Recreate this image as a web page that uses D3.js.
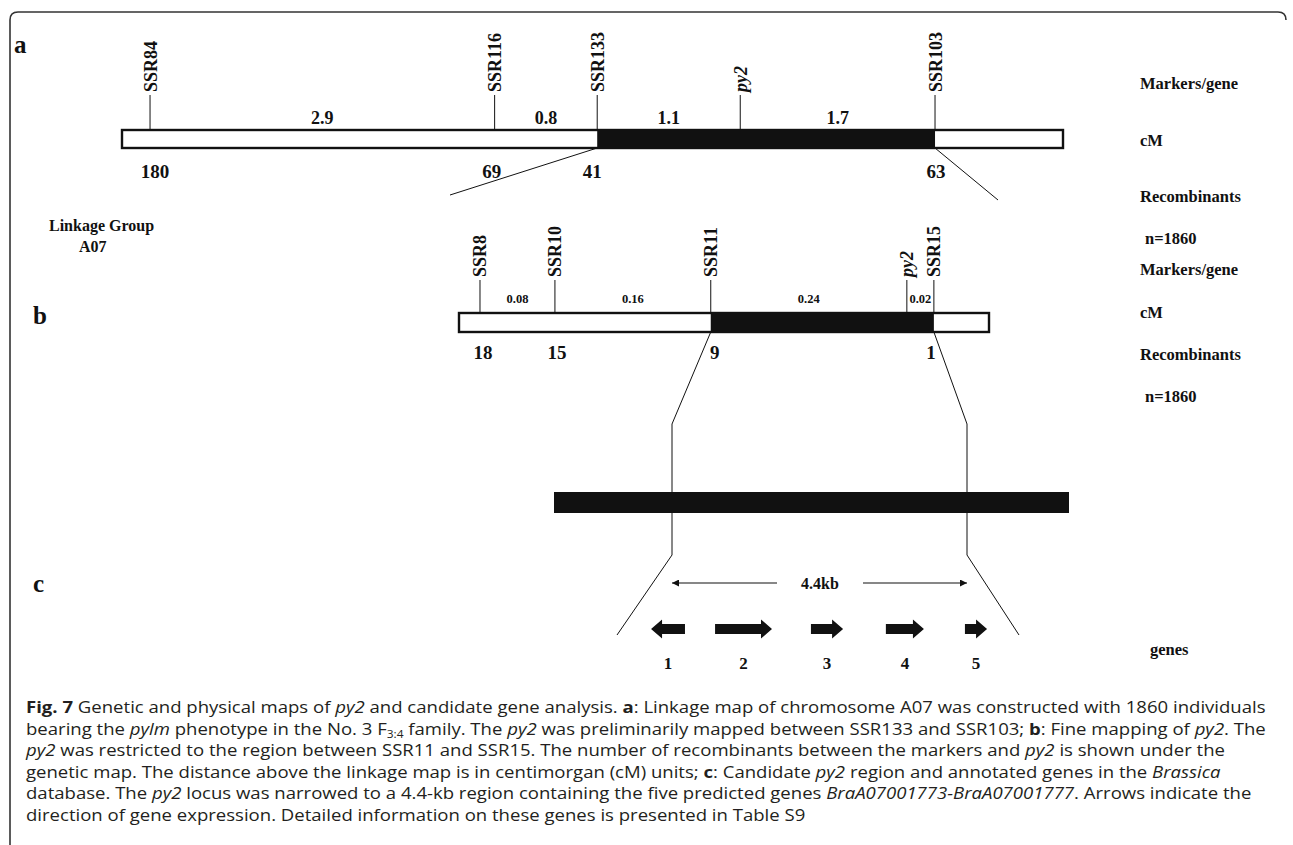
<!DOCTYPE html>
<html><head><meta charset="utf-8">
<script src="https://cdn.jsdelivr.net/npm/d3@7"></script>
<style>body{margin:0;background:#fff}</style>
</head><body>
<svg id="fig" width="1293" height="845"></svg>
<script>
// ---- data ----------------------------------------------------------
// Panel a: linkage map of chromosome A07
const markersA = ["SSR84", "SSR116", "SSR133", "py2", "SSR103"];
const cmA = [2.9, 0.8, 1.1, 1.7];
const recombA = [180, 69, 41, null, 63];
// Panel b: fine map of the py2 interval
const markersB = ["SSR8", "SSR10", "SSR11", "py2", "SSR15"];
const cmB = [0.08, 0.16, 0.24, 0.02];
const recombB = [18, 15, 9, null, 1];
const population = 1860;
// Panel c: candidate region and predicted genes
const regionSize = "4.4kb";
const geneIds = [1, 2, 3, 4, 5];
const geneStrand = [-1, 1, 1, 1, 1];
const rowLabels = ["Markers/gene", "cM", "Recombinants"];

// ---- layout ---------------------------------------------------------
// schematic (not to scale) slot of each marker along its bar, 0..1
const slotsA = [0.0298, 0.396, 0.505, 0.657, 0.864];
const slotsB = [0.0396, 0.181, 0.475, 0.845, 0.896];
// gene extents relative to the candidate window (0 = left border, 1 = right border)
const geneSlots = [[-0.071, 0.044], [0.146, 0.339], [0.471, 0.58], [0.725, 0.854], [0.993, 1.068]];

const svg = d3.select("#fig");
const SERIF = "'Liberation Serif','Times New Roman',serif";
const ink = "#111";

// frame
svg.append("path")
  .attr("d", "M10,845 L10,20 Q10,12 18,12 L1278,12 Q1286,12 1286,20")
  .attr("fill", "none").attr("stroke", "#333").attr("stroke-width", 1.6);

const g = svg.append("g").attr("font-family", SERIF).attr("font-weight", "bold").attr("fill", ink);

function panelLetter(t, x, y) {
  g.append("text").attr("x", x).attr("y", y).attr("font-size", 25).text(t);
}

function linkageMap(opt) {
  const x = d3.scaleLinear().domain([0, 1]).range([opt.x0, opt.x1]);
  const xs = opt.slots.map(s => x(s));
  const grp = g.append("g");
  // white bar with black interval between the flanking markers
  grp.append("rect").attr("x", opt.x0).attr("y", opt.y).attr("width", opt.x1 - opt.x0)
    .attr("height", opt.h).attr("fill", "#fff").attr("stroke", ink).attr("stroke-width", 2.4);
  grp.append("rect").attr("x", xs[opt.black[0]]).attr("y", opt.y)
    .attr("width", xs[opt.black[1]] - xs[opt.black[0]]).attr("height", opt.h).attr("fill", ink);
  // marker ticks and rotated names
  opt.markers.forEach((m, i) => {
    grp.append("line").attr("x1", xs[i]).attr("x2", xs[i]).attr("y1", opt.y).attr("y2", opt.tickTop)
      .attr("stroke", ink).attr("stroke-width", 1);
    grp.append("text")
      .attr("transform", `translate(${xs[i]},${opt.tickTop - 3}) rotate(-90)`)
      .attr("dy", "0.36em").attr("font-size", opt.markerSize)
      .attr("font-style", m === "py2" ? "italic" : "normal")
      .text(m);
  });
  // genetic distances centred between neighbouring markers
  opt.cm.forEach((d, i) => {
    grp.append("text").attr("x", (xs[i] + xs[i + 1]) / 2).attr("y", opt.cmY)
      .attr("text-anchor", "middle").attr("font-size", opt.cmSize).text(d);
  });
  // recombinant counts under the markers
  opt.recomb.forEach((d, i) => {
    if (d == null) return;
    grp.append("text").attr("x", xs[i] + (opt.recOff ? opt.recOff[i] : 0)).attr("y", opt.recY)
      .attr("text-anchor", "middle").attr("font-size", 19).text(d);
  });
  return xs;
}

function rowTitles(ys) {
  const labels = rowLabels.concat(["n=" + population]);
  labels.forEach((t, i) => {
    g.append("text").attr("x", i === 3 ? 1145 : 1140).attr("y", ys[i]).attr("font-size", 16.5).text(t);
  });
}

// ---- panel a ----
panelLetter("a", 14, 53);
const xa = linkageMap({
  x0: 122, x1: 1063, y: 130, h: 18, tickTop: 95, slots: slotsA, markers: markersA,
  black: [2, 4], cm: cmA, cmY: 124, cmSize: 18, recomb: recombA, recY: 178,
  recOff: [5, -3, -5, 0, 1], markerSize: 18
});
rowTitles([89, 146, 202, 244]);

g.append("text").attr("x", 49).attr("y", 231).attr("font-size", 16).text("Linkage Group");
g.append("text").attr("x", 79).attr("y", 252).attr("font-size", 16).text("A07");

// ---- panel b ----
panelLetter("b", 33, 324);
const xb = linkageMap({
  x0: 459, x1: 989, y: 313, h: 19, tickTop: 280, slots: slotsB, markers: markersB,
  black: [2, 4], cm: cmB, cmY: 303, cmSize: 12.5, recomb: recombB, recY: 359,
  recOff: [3, 2, 4, 0, -3], markerSize: 18
});
rowTitles([275, 318, 360, 402]);

// zoom lines from a to b
const lineStyle = s => s.attr("fill", "none").attr("stroke", ink).attr("stroke-width", 1);
svg.append("line").attr("x1", xa[2]).attr("y1", 148).attr("x2", 450).attr("y2", 195).call(lineStyle);
svg.append("line").attr("x1", xa[4]).attr("y1", 148).attr("x2", 998).attr("y2", 200).call(lineStyle);

// ---- panel c ----
panelLetter("c", 33, 592);
const xc = d3.scaleLinear().domain([0, 1]).range([672, 967]);
// zoom lines from b down to the gene row
[[xb[2], 0, 617], [xb[4], 1, 1019]].forEach(([xs, side, xEnd]) => {
  svg.append("path")
    .attr("d", d3.line()([[xs, 332], [xc(side), 424], [xc(side), 555], [xEnd, 635]]))
    .call(lineStyle);
});
// physical map bar
svg.append("rect").attr("x", 554).attr("y", 492).attr("width", 515).attr("height", 21).attr("fill", ink);

// 4.4 kb extent arrows
const defs = svg.append("defs");
defs.append("marker").attr("id", "ah").attr("viewBox", "0 0 10 10").attr("refX", 10).attr("refY", 5)
  .attr("markerWidth", 10).attr("markerHeight", 7).attr("orient", "auto-start-reverse")
  .attr("markerUnits", "userSpaceOnUse")
  .append("path").attr("d", "M0,0 L10,5 L0,10 Z").attr("fill", ink);
svg.append("line").attr("x1", 777).attr("y1", 583).attr("x2", xc(0)).attr("y2", 583)
  .attr("stroke", ink).attr("stroke-width", 1.2).attr("marker-end", "url(#ah)");
svg.append("line").attr("x1", 863).attr("y1", 583).attr("x2", xc(1)).attr("y2", 583)
  .attr("stroke", ink).attr("stroke-width", 1.2).attr("marker-end", "url(#ah)");
g.append("text").attr("x", 820).attr("y", 589).attr("text-anchor", "middle").attr("font-size", 16).text(regionSize);

// gene arrows: direction of transcription from geneStrand
const gy = 629, shaft = 5, head = 9.5, headLen = 11;
geneIds.forEach((id, i) => {
  const a = xc(geneSlots[i][0]), b = xc(geneSlots[i][1]);
  let pts;
  if (geneStrand[i] > 0) {
    const hb = b - headLen;
    pts = [[a, gy - shaft], [hb, gy - shaft], [hb, gy - head], [b, gy], [hb, gy + head], [hb, gy + shaft], [a, gy + shaft]];
  } else {
    const hb = a + headLen;
    pts = [[b, gy - shaft], [hb, gy - shaft], [hb, gy - head], [a, gy], [hb, gy + head], [hb, gy + shaft], [b, gy + shaft]];
  }
  svg.append("path").attr("d", d3.line()(pts) + "Z").attr("fill", ink);
  g.append("text").attr("x", (a + b) / 2).attr("y", 669).attr("text-anchor", "middle").attr("font-size", 17).text(id);
});
g.append("text").attr("x", 1150).attr("y", 655).attr("font-size", 16.5).text("genes");

// ---- caption ----
const B = "b", I = "i", N = "n", S = "s";
const captionLines = [
  [["Fig. 7", B], [" Genetic and physical maps of ", N], ["py2", I], [" and candidate gene analysis. ", N], ["a", B], [": Linkage map of chromosome A07 was constructed with 1860 individuals", N]],
  [["bearing the ", N], ["pylm", I], [" phenotype in the No. 3 F", N], ["3:4", S], [" family. The ", N], ["py2", I], [" was preliminarily mapped between SSR133 and SSR103; ", N], ["b", B], [": Fine mapping of ", N], ["py2", I], [". The", N]],
  [["py2", I], [" was restricted to the region between SSR11 and SSR15. The number of recombinants between the markers and ", N], ["py2", I], [" is shown under the", N]],
  [["genetic map. The distance above the linkage map is in centimorgan (cM) units; ", N], ["c", B], [": Candidate ", N], ["py2", I], [" region and annotated genes in the ", N], ["Brassica", I]],
  [["database. The ", N], ["py2", I], [" locus was narrowed to a 4.4-kb region containing the five predicted genes ", N], ["BraA07001773-BraA07001777", I], [". Arrows indicate the", N]],
  [["direction of gene expression. Detailed information on these genes is presented in Table S9", N]]
];
const cap = svg.append("g").attr("font-family", "'Open Sans',sans-serif").attr("font-size", 16.3).attr("fill", "#231f20");
const capNodes = captionLines.map((segs) => {
  const t = cap.append("text").attr("x", 0).attr("y", 0);
  let shifted = false;
  segs.forEach(([txt, st]) => {
    const sp = t.append("tspan").text(txt);
    if (st === B) sp.attr("font-weight", "bold");
    if (st === I) sp.attr("font-style", "italic");
    if (st === S) { sp.attr("font-size", 10.5).attr("dy", 3); shifted = true; }
    else if (shifted) { sp.attr("dy", -3); shifted = false; }
  });
  return t;
});
// common horizontal scale so that the first line spans the caption width
const w0 = capNodes[0].node().getBBox().width;
const sx = (1265 - 26) / w0;
capNodes.forEach((t, li) => {
  t.attr("transform", `translate(26,${713 + li * 21.6}) scale(${sx},1)`);
});
</script>
</body></html>
